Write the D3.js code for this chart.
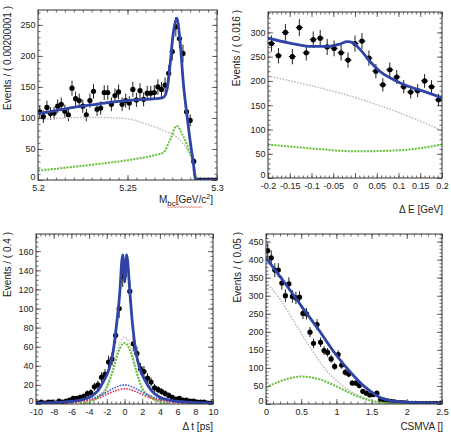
<!DOCTYPE html>
<html>
<head>
<meta charset="utf-8">
<script src="https://cdn.jsdelivr.net/npm/d3@7"></script>
<style>
  body { margin: 0; background: #fff; }
  svg { display: block; }
  text { font-family: "Liberation Sans", Arial, sans-serif; }
</style>
</head>
<body>
<svg id="chart" width="451" height="434"></svg>
<script>

// ---- Mbc panel ----
const mbcBins = { lo: 5.2, hi: 5.3, n: 50 };
const mbcCounts = [110,102,117,107,108,119,122,111,105,148,131,128,119,105,128,143,114,116,141,141,
                   122,136,142,122,128,124,146,129,144,130,140,140,141,150,146,153,172,207,247,228,
                   204,110,96,30,0,0,0,0,0,0];
const mbcTotal = [[5.200,107],[5.210,112],[5.220,117],[5.230,121],[5.240,125],[5.250,128],[5.260,130],
                  [5.266,131],[5.270,133],[5.272,145],[5.2737,183],[5.2755,235],[5.2775,261],[5.2793,226],
                  [5.2812,156],[5.2831,107],[5.2849,65],[5.2868,27],[5.2880,0],[5.300,0]];
const mbcBkg   = [[5.200,97],[5.215,100],[5.230,101],[5.240,100.5],[5.2514,98],[5.2607,90],[5.270,80],
                  [5.2775,69],[5.2812,58],[5.2849,41],[5.2868,26],[5.2885,0]];
const mbcPeak  = [[5.200,15],[5.225,23],[5.250,32],[5.2665,41],[5.270,44],[5.2737,64],[5.2775,87],
                  [5.2812,70],[5.2849,43],[5.2868,27],[5.2885,0]];
const mbcXTicks = [5.2, 5.25, 5.3];
const mbcYTicks = [0, 50, 100, 150, 200, 250];

// ---- Delta E panel ----
const deBins = { lo: -0.2, hi: 0.2, n: 25 };
const deCounts = [277,252,300,250,310,258,285,288,270,267,258,243,277,282,247,220,192,223,208,188,
                  177,180,200,188,161];
const deTotal = [[-0.2,288],[-0.15,278],[-0.1,271],[-0.06,271],[-0.035,276],[-0.018,281],[-0.005,279],
                 [0.0115,265],[0.0345,240],[0.057,220],[0.088,203],[0.119,190],[0.157,179],[0.2,165]];
const deBkg   = [[-0.2,210],[-0.1,190],[0,166],[0.1,135],[0.2,98]];
const dePeak  = [[-0.2,69],[-0.1,61],[0,55],[0.1,57],[0.2,69]];
const deXTicks = [-0.2,-0.15,-0.1,-0.05,0,0.05,0.1,0.15,0.2];
const deYTicks = [0,50,100,150,200,250,300];

// ---- Delta t panel ----
const dtBins = { lo: -10, hi: 10, n: 50 };
const dtCounts = [1,2,1,2,2,1,3,2,3,4,6,6,7,8,11,12,18,20,28,31,44,47,72,100,134,145,118,63,53,37,
                  34,27,23,17,15,13,11,9,7,5,6,4,4,3,3,2,2,2,1,1];
const dtTotal = [[-10,1],[-7,2],[-5,4],[-4,7],[-3,14],[-2.3,25],[-1.73,37],[-1.28,55],[-0.9,83],
                 [-0.52,118],[-0.3,150],[-0.2,156],[0.02,128],[0.25,156],[0.35,150],[0.6,118],[0.91,83],
                 [1.28,55],[1.73,37],[2.3,25],[3.05,14],[4,7],[5.1,4],[7,2],[10,1]];
const dtBkg   = [[-5,1],[-4,2.5],[-3,8],[-2,19],[-1.3,38],[-0.7,60],[-0.3,68],[0,70],[0.3,68],[0.7,60],
                 [1.3,38],[2,18],[3,8],[4,2.5],[5,1]];
const dtPeak  = [[-5,0.5],[-4,2],[-3,7],[-2,17],[-1.3,35],[-0.7,54],[-0.3,62],[0,64],[0.3,62],[0.7,54],
                 [1.3,35],[2,16],[3,7],[4,2],[5,0.5]];
const dtSigA  = [[-10,0.3],[-6,2],[-5,3],[-4,5],[-3,8],[-2,12.5],[-1,17.5],[0,20],[1,17.5],[2,12.5],
                 [3,8],[4,5],[5,3],[6,2],[10,0.3]];
const dtSigB  = [[-10,0.2],[-6,1.5],[-5,2.5],[-4,4],[-3,6],[-2,10],[-1,14],[0,16],[1,14],[2,10],
                 [3,6],[4,4],[5,2.5],[6,1.5],[10,0.2]];
const dtXTicks = [-10,-8,-6,-4,-2,0,2,4,6,8,10];
const dtYTicks = [0,20,40,60,80,100,120,140,160];

// ---- CSMVA panel ----
const csBins = { lo: 0, hi: 2.5, n: 50 };
const csCounts = [425,405,371,371,335,300,333,298,294,296,251,250,199,168,220,171,148,143,125,104,
                  137,108,88,83,58,58,51,35,30,25,26,30,11,11,9,7,6,4,4,3,2,2,2,1,1,1,1,1,1,1];
const csTotal = [[0,405],[0.25,340],[0.5,272],[0.75,205],[1.0,135],[1.2,88],[1.4,48],[1.5,33],[1.6,20],
                 [1.7,12],[1.8,8],[2.0,5],[2.25,3],[2.5,2]];
const csBkg   = [[0,338],[0.2,290],[0.38,234],[0.6,165],[0.85,95],[1.1,49],[1.3,25],[1.5,10],[1.7,3],
                 [2.0,0.5],[2.5,0]];
const csPeak  = [[0,46],[0.23,65],[0.5,76],[0.75,69],[0.98,51],[1.22,28],[1.45,11],[1.64,4],[2.0,0.5],[2.5,0]];
const csXTicks = [0,0.5,1,1.5,2,2.5];
const csYTicks = [0,50,100,150,200,250,300,350,400,450];

const svg = d3.select("#chart");
const BLUE = "#2f44a6", GREEN = "#62bf38", GREY = "#b8b8b8";

function binCenters(b) {
  const w = (b.hi - b.lo) / b.n;
  return d3.range(b.n).map(i => b.lo + (i + 0.5) * w);
}

function drawPanel(p, id) {
  const { l, r, t, b } = p.frame;
  const x = d3.scaleLinear().domain(p.xDomain).range([l, r]);
  const y = d3.scaleLinear().domain(p.yDomain).range([b, t]);
  const g = svg.append("g");

  g.append("clipPath").attr("id", "clip" + id)
    .append("rect").attr("x", l).attr("y", t).attr("width", r - l).attr("height", b - t);

  // ticks (inside the frame, all four sides)
  const tickStyle = sel => {
    sel.select(".domain").remove();
    sel.selectAll("line").attr("stroke", "#444").attr("stroke-width", 0.8);
    sel.selectAll("text").attr("font-size", 9).attr("fill", "#222")
      .style("font-family", '"Liberation Sans", Arial, sans-serif');
  };
  const xMinor = d3.range(p.xDomain[0], p.xDomain[1] + 1e-9, p.xMinor);
  const yMinor = d3.range(p.yDomain[0], p.yDomain[1] + 1e-9, p.yMinor);

  g.append("g").attr("transform", `translate(0,${b})`)
    .call(d3.axisBottom(x).tickValues(p.xTicks).tickSize(-5).tickPadding(4.5).tickFormat(p.xFmt || String))
    .call(tickStyle);
  g.append("g").attr("transform", `translate(0,${b})`)
    .call(d3.axisBottom(x).tickValues(xMinor).tickSize(-2.5).tickFormat("")).call(tickStyle);
  g.append("g").attr("transform", `translate(0,${t})`)
    .call(d3.axisTop(x).tickValues(p.xTicks).tickSize(-5).tickFormat("")).call(tickStyle);
  g.append("g").attr("transform", `translate(0,${t})`)
    .call(d3.axisTop(x).tickValues(xMinor).tickSize(-2.5).tickFormat("")).call(tickStyle);

  const yAx = g.append("g").attr("transform", `translate(${l},0)`)
    .call(d3.axisLeft(y).tickValues(p.yTicks).tickSize(-5).tickPadding(2.5).tickFormat(String))
    .call(tickStyle);
  // lift the zero label a little so it clears the first x label
  yAx.selectAll(".tick").filter(d => d === 0).select("text").attr("y", -3);
  g.append("g").attr("transform", `translate(${l},0)`)
    .call(d3.axisLeft(y).tickValues(yMinor).tickSize(-2.5).tickFormat("")).call(tickStyle);
  g.append("g").attr("transform", `translate(${r},0)`)
    .call(d3.axisRight(y).tickValues(p.yTicks).tickSize(-5).tickFormat("")).call(tickStyle);
  g.append("g").attr("transform", `translate(${r},0)`)
    .call(d3.axisRight(y).tickValues(yMinor).tickSize(-2.5).tickFormat("")).call(tickStyle);

  const plot = g.append("g").attr("clip-path", `url(#clip${id})`);
  const line = d3.line().x(d => x(d[0])).y(d => y(d[1])).curve(d3.curveMonotoneX);

  // data points with error bars
  const centers = binCenters(p.bins);
  const hw = (p.bins.hi - p.bins.lo) / p.bins.n / 2;
  const pts = centers.map((c, i) => ({ c, v: p.counts[i] }));

  plot.append("g").selectAll("line.ex").data(pts).join("line")
    .attr("x1", d => x(d.c - hw)).attr("x2", d => x(d.c + hw))
    .attr("y1", d => y(d.v)).attr("y2", d => y(d.v))
    .attr("stroke", "#000").attr("stroke-width", 1);
  plot.append("g").selectAll("line.ey").data(pts).join("line")
    .attr("x1", d => x(d.c)).attr("x2", d => x(d.c))
    .attr("y1", d => y(d.v - Math.sqrt(d.v))).attr("y2", d => y(d.v + Math.sqrt(d.v)))
    .attr("stroke", "#222").attr("stroke-width", 1);
  plot.append("g").selectAll("circle").data(pts).join("circle")
    .attr("cx", d => x(d.c)).attr("cy", d => y(d.v)).attr("r", 2.6).attr("fill", "#000");

  // fit components
  p.curves.forEach(cv => {
    plot.append("path").datum(cv.data)
      .attr("fill", "none")
      .attr("stroke", cv.color)
      .attr("stroke-width", cv.width)
      .attr("stroke-dasharray", cv.dash || null)
      .attr("stroke-linejoin", "round")
      .attr("d", line);
  });

  // frame
  g.append("rect").attr("x", l).attr("y", t).attr("width", r - l).attr("height", b - t)
    .attr("fill", "none").attr("stroke", "#333").attr("stroke-width", 1);

  // y title
  g.append("text")
    .attr("transform", `translate(${p.yTitlePos[0]},${p.yTitlePos[1]}) rotate(-90)`)
    .attr("text-anchor", "end").attr("font-size", 10).attr("fill", "#222")
    .text(p.yTitle);

  return { g, x, y };
}

const bkgStyle  = { color: GREY, width: 1.4, dash: "1.6,1.4" };
const peakStyle = { color: GREEN, width: 2, dash: "2,1.2" };
const totStyle  = { color: BLUE, width: 2.8 };

// panel 1
const p1 = drawPanel({
  frame: { l: 38, r: 217, t: 10, b: 180 },
  xDomain: [5.2, 5.3], yDomain: [0, 274],
  xTicks: mbcXTicks, xMinor: 0.005, yTicks: mbcYTicks, yMinor: 10,
  bins: mbcBins, counts: mbcCounts,
  curves: [
    { data: mbcBkg, ...bkgStyle },
    { data: mbcPeak, ...peakStyle },
    { data: mbcTotal, ...totStyle }
  ],
  yTitle: "Events / ( 0.00200001 )", yTitlePos: [11, 6]
}, 1);

// Mbc axis title with sub/superscript
const mt = p1.g.append("text")
  .attr("x", 213).attr("y", 203).attr("text-anchor", "end")
  .attr("font-size", 10).attr("fill", "#222");
mt.append("tspan").text("M");
mt.append("tspan").attr("dy", 3).attr("font-size", 8).text("bc");
mt.append("tspan").attr("dy", -3).text("[GeV/c");
mt.append("tspan").attr("dy", -4).attr("font-size", 7).text("2");
mt.append("tspan").attr("dy", 4).text("]");
{
  // red spell-check squiggle under the title
  const node = mt.node();
  const x0 = node.getStartPositionOfChar(1).x;
  const x1 = node.getEndPositionOfChar(7).x;
  const yW = 206.5;
  let dW = `M${x0},${yW}`;
  for (let xx = x0, k = 0; xx < x1; xx += 1.5, k++) dW += `L${xx + 1.5},${yW + (k % 2 ? 0 : 1.2)}`;
  p1.g.append("path").attr("d", dW).attr("fill", "none")
    .attr("stroke", "#e0453c").attr("stroke-width", 0.7);
}

// panel 2
const p2 = drawPanel({
  frame: { l: 268, r: 442, t: 12, b: 178 },
  xDomain: [-0.2, 0.2], yDomain: [0, 342],
  xTicks: deXTicks, xMinor: 0.01, yTicks: deYTicks, yMinor: 10,
  bins: deBins, counts: deCounts,
  curves: [
    { data: deBkg, ...bkgStyle },
    { data: dePeak, ...peakStyle },
    { data: deTotal, ...totStyle }
  ],
  yTitle: "Events / ( 0.016 )", yTitlePos: [240, 10]
}, 2);
p2.g.append("text").attr("x", 443).attr("y", 213).attr("text-anchor", "end")
  .attr("font-size", 10).attr("fill", "#222").text("Δ E [GeV]");

// panel 3
const p3 = drawPanel({
  frame: { l: 36, r: 213, t: 234, b: 404 },
  xDomain: [-10, 10], yDomain: [0, 178],
  xTicks: dtXTicks, xMinor: 0.5, yTicks: dtYTicks, yMinor: 5,
  bins: dtBins, counts: dtCounts,
  curves: [
    { data: dtBkg, color: "#c8c8c8", width: 1.6, dash: "1.6,1.4" },
    { data: dtPeak, ...peakStyle },
    { data: dtSigA, color: "#3e5fd6", width: 1.6, dash: "1.6,1.2" },
    { data: dtSigB, color: "#e0334f", width: 1.6, dash: "1.6,1.2" },
    { data: dtTotal, ...totStyle }
  ],
  yTitle: "Events / ( 0.4 )", yTitlePos: [11, 232]
}, 3);
p3.g.append("text").attr("x", 213).attr("y", 430).attr("text-anchor", "end")
  .attr("font-size", 10).attr("fill", "#222").text("Δ t [ps]");

// panel 4
const p4 = drawPanel({
  frame: { l: 266, r: 442, t: 234, b: 404 },
  xDomain: [0, 2.5], yDomain: [0, 471],
  xTicks: csXTicks, xMinor: 0.1, yTicks: csYTicks, yMinor: 10,
  bins: csBins, counts: csCounts,
  curves: [
    { data: csBkg, ...bkgStyle },
    { data: csPeak, ...peakStyle },
    { data: csTotal, ...totStyle }
  ],
  yTitle: "Events / ( 0.05 )", yTitlePos: [240.5, 232]
}, 4);
p4.g.append("text").attr("x", 443).attr("y", 430).attr("text-anchor", "end")
  .attr("font-size", 10).attr("fill", "#222").text("CSMVA []");

</script>
</body>
</html>
